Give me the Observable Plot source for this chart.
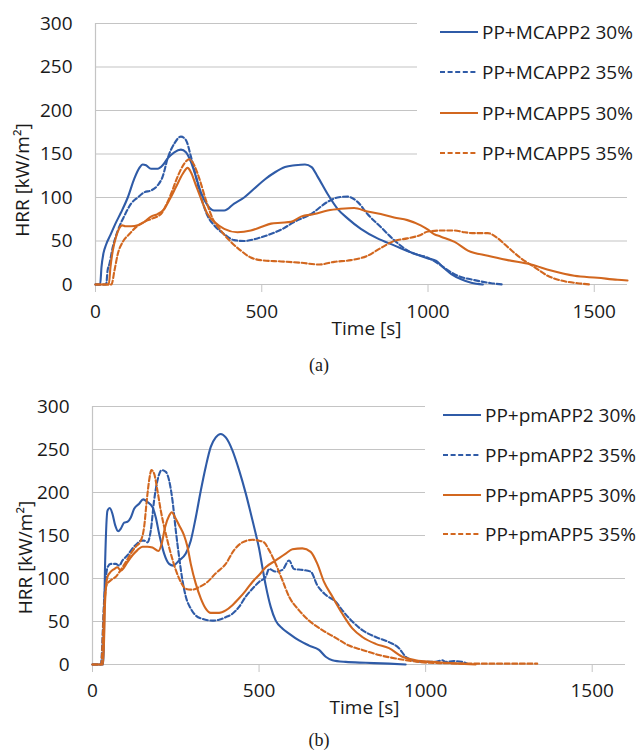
<!DOCTYPE html>
<html><head><meta charset="utf-8">
<script src="https://cdn.jsdelivr.net/npm/d3@7"></script>
<script src="https://cdn.jsdelivr.net/npm/@observablehq/plot@0.6"></script>
<style>
body{margin:0;background:#fff;}
#wrap{position:relative;width:638px;height:753px;overflow:hidden;font-family:"Open Sans",sans-serif;background:#fff;}
.panel{position:absolute;left:0;}
.legend{position:absolute;background:#fff;}
.row{position:absolute;height:24px;display:flex;align-items:center;font-size:19px;color:#1a1a1a;white-space:nowrap;}
.row svg{margin-right:4px;}
.cap{position:absolute;left:0;width:638px;text-align:center;font-family:"Liberation Serif","Times New Roman",serif;font-size:18px;line-height:22px;color:#1a1a1a;}
</style></head><body><div id="wrap"></div>
<script>
// ---------- data ----------
const xTicks = [0, 500, 1000, 1500];
const yTicks = [0, 50, 100, 150, 200, 250, 300];
const yLabel = "HRR [kW/m²]";
const xLabel = "Time [s]";

const namesA = ["PP+MCAPP2 30%", "PP+MCAPP2 35%", "PP+MCAPP5 30%", "PP+MCAPP5 35%"];
const namesB = ["PP+pmAPP2 30%", "PP+pmAPP2 35%", "PP+pmAPP5 30%", "PP+pmAPP5 35%"];

// panel (a): [time s, HRR kW/m2]
const aMC2_30 = [[0,0],[14,0],[18,20],[24,36],[32,46],[45,57],[60,70],[77,83],[97,100],[117,122],[132,134],[142,138],[152,137],[167,133],[187,133],[202,137],[217,145],[237,152],[257,155],[272,152],[287,141],[302,124],[317,106],[337,91],[357,85],[387,85],[417,93],[447,100],[477,110],[510,121],[540,129],[570,135],[600,137],[630,138],[650,135],[668,124],[698,104],[728,87],[758,76],[798,64],[848,53],[898,45],[948,37],[1000,30],[1025,27],[1045,20],[1070,12],[1100,6],[1130,2],[1165,0]];
const aMC2_35 = [[0,0],[32,0],[36,15],[42,24],[52,43],[67,62],[87,79],[107,93],[127,100],[147,106],[167,108],[187,114],[202,124],[217,145],[237,162],[257,170],[272,166],[287,147],[302,124],[317,101],[337,79],[357,68],[387,58],[417,51],[447,50],[487,53],[527,58],[558,63],[598,72],[648,81],[698,95],[728,100],[758,101],[788,95],[818,81],[858,66],[898,51],[948,37],[998,31],[1039,22],[1065,15],[1090,10],[1140,5],[1190,1.5],[1225,0]];
const aMC5_30 = [[0,0],[40,0],[45,20],[52,39],[62,55],[72,65],[80,68],[90,67],[107,67],[127,68],[147,72],[167,78],[187,81],[207,87],[222,97],[242,112],[262,127],[277,134],[287,129],[302,114],[317,99],[337,81],[357,72],[387,64],[427,60],[467,62],[498,66],[528,70],[558,71],[588,72],[618,78],[658,81],[698,85],[738,87],[778,88],[818,84],[858,81],[898,77],[938,74],[978,68],[1000,63],[1018,58],[1039,55],[1080,49],[1120,39],[1180,33],[1240,28],[1310,23],[1370,16],[1440,10],[1510,7.7],[1570,5.4],[1600,4.6]];
const aMC5_35 = [[0,0],[48,0],[57,16],[67,35],[82,49],[102,58],[122,66],[147,72],[172,76],[197,81],[212,91],[227,104],[247,124],[267,139],[282,144],[297,137],[312,122],[332,97],[352,76],[377,62],[407,49],[437,39],[467,31],[497,28],[558,26.5],[618,25],[673,23],[718,26],[768,28],[818,33],[858,42],[898,50],[938,53],[978,57],[1000,61],[1040,62],[1080,62],[1110,60],[1140,59],[1180,59],[1210,53],[1240,43],[1280,30],[1320,20],[1360,10],[1400,4.6],[1450,1.5],[1490,0]];

// panel (b)
const bPM2_30 = [[0,0],[32,0],[38,120],[45,179],[52,182],[60,175],[68,162],[77,155],[85,158],[95,165],[105,166],[115,171],[125,181],[140,187],[152,192],[165,189],[180,183],[190,171],[200,152],[215,129],[230,117],[242,115],[260,121],[280,129],[295,144],[310,171],[325,202],[340,230],[355,253],[370,264],[385,268],[400,264],[420,249],[440,226],[460,199],[480,168],[490,152],[500,135],[510,113],[520,92],[535,67],[550,51],[570,42],[590,36],[620,28],[650,22],[680,17],[700,9],[720,5],[760,3],[820,2],[890,1],[940,0]];
const bPM2_35 = [[0,0],[25,0],[35,75],[45,113],[55,117],[70,117],[80,115],[90,121],[105,127],[120,135],[135,141],[145,144],[155,144],[165,142],[175,156],[185,191],[195,214],[208,226],[220,224],[230,214],[240,191],[250,156],[260,125],[270,98],[280,79],[295,65],[310,57],[330,53],[360,51],[380,52],[400,55],[420,59],[440,67],[460,79],[480,88],[500,96],[520,102],[530,111],[550,108],[570,110],[590,121],[605,111],[630,110],[655,108],[675,92],[700,81],[730,73],[750,63],[780,50],[810,40],[850,32],[890,26],[920,19],[940,9],[960,5],[990,3],[1030,3],[1050,5],[1060,3],[1085,4],[1110,3],[1125,1]];
const bPM5_30 = [[0,0],[32,0],[38,75],[45,102],[55,108],[65,111],[75,113],[85,109],[95,113],[105,119],[120,127],[135,133],[150,137],[165,137],[180,136],[198,132],[208,141],[218,160],[230,173],[238,177],[248,171],[260,162],[275,150],[285,137],[295,117],[310,94],[325,77],[340,65],[355,60],[380,60],[400,63],[420,69],[440,77],[460,86],[480,96],[500,104],[520,113],[550,121],[580,129],[600,134],[630,135],[655,131],[675,117],[695,96],[720,79],[750,59],[780,42],[810,32],[850,24],[890,19],[930,9],[970,5],[1020,3],[1060,2],[1100,1],[1150,0]];
const bPM5_35 = [[0,0],[26,0],[35,67],[42,92],[55,98],[70,102],[85,110],[100,119],[115,129],[130,137],[145,144],[155,160],[163,191],[170,214],[177,226],[185,222],[195,202],[205,179],[220,152],[235,129],[250,110],[265,96],[280,88],[300,87],[320,90],[345,96],[370,106],[400,117],[425,133],[450,142],[480,145],[500,144],[515,142],[530,133],[550,117],[570,98],[590,79],[620,63],[650,51],[690,40],[730,31],[770,22],[810,17],[860,11],[910,7],[960,4],[1010,2],[1060,1.5],[1120,1],[1200,1],[1280,1],[1335,1]];

const colors = ["#2F5BA7", "#2F5BA7", "#D2671F", "#D2671F"];
const dashes = [null, "5,2.6", null, "5,2.6"];

// ---------- drawing ----------
const wrap = document.getElementById("wrap");

function makePanel(cfg) {
  const lines = cfg.series.map((s, i) => Plot.line(s, {
    x: d => d[0], y: d => d[1], stroke: colors[i], strokeWidth: 2.1,
    strokeDasharray: dashes[i] || undefined, curve: "monotone-x"
  }));
  const svg = Plot.plot({
    width: 638, height: cfg.height,
    marginLeft: cfg.left, marginRight: 638 - cfg.right,
    marginTop: cfg.top, marginBottom: cfg.height - cfg.bottom,
    style: {fontFamily: "Open Sans", fontSize: "19px", color: "#1a1a1a", background: "transparent", overflow: "visible"},
    x: {domain: [0, 1600], axis: null},
    y: {domain: [0, 300], axis: null},
    marks: [
      Plot.gridY(yTicks, {stroke: "#c4c4c4", strokeOpacity: 1, strokeWidth: 1.2}),
      Plot.ruleX([0], {stroke: "#c4c4c4", strokeWidth: 1.2}),
      Plot.axisX(xTicks, {tickSize: 8, tickPadding: cfg.xPad, stroke: "#c4c4c4", fill: "#1a1a1a", label: null, tickFormat: d => String(d)}),
      Plot.axisY(yTicks, {tickSize: 0, tickPadding: 23, fill: "#1a1a1a", label: null, tickFormat: d => String(d)}),
      Plot.text([yLabel], {frameAnchor: "left", textAnchor: "middle", lineAnchor: "middle", rotate: -90, dx: cfg.yLabDx, dy: cfg.yLabDy, text: d => d, fill: "#1a1a1a"}),
      Plot.text([xLabel], {frameAnchor: "bottom", textAnchor: "middle", lineAnchor: "middle", dx: cfg.xLabDx, dy: cfg.xLabDy, text: d => d, fill: "#1a1a1a"}),
      ...lines
    ]
  });
  svg.classList.add("panel");
  svg.style.top = cfg.svgTop + "px";
  wrap.appendChild(svg);

  // legend (white box over the upper gridlines)
  const lg = document.createElement("div");
  lg.className = "legend";
  lg.style.left = cfg.lg.left + "px";
  lg.style.top = cfg.lg.top + "px";
  lg.style.width = (638 - cfg.lg.left) + "px";
  lg.style.height = cfg.lg.height + "px";
  cfg.names.forEach((name, i) => {
    const r = document.createElement("div");
    r.className = "row";
    r.style.left = (cfg.lg.lineX - cfg.lg.left) + "px";
    r.style.top = (cfg.lg.rows[i] - cfg.lg.top - 12) + "px";
    const dash = dashes[i] ? ` stroke-dasharray="${dashes[i]}"` : "";
    r.innerHTML = `<svg width="38" height="6"><line x1="0" y1="3" x2="38" y2="3" stroke="${colors[i]}" stroke-width="2.1"${dash}/></svg><span>${name}</span>`;
    lg.appendChild(r);
  });
  wrap.appendChild(lg);

  const cap = document.createElement("div");
  cap.className = "cap";
  cap.style.top = (cfg.capY - 11) + "px";
  cap.textContent = cfg.cap;
  wrap.appendChild(cap);
}

makePanel({
  series: [aMC2_30, aMC2_35, aMC5_30, aMC5_35], names: namesA,
  svgTop: 0, height: 345, top: 23, bottom: 284, left: 95, right: 627, xPad: 12,
  yLabDx: -73, yLabDy: 26, xLabDx: 5, xLabDy: 44,
  lg: {left: 417, top: 2, height: 170, lineX: 440, rows: [32, 72, 113, 153]},
  cap: "(a)", capY: 365
});
makePanel({
  series: [bPM2_30, bPM2_35, bPM5_30, bPM5_35], names: namesB,
  svgTop: 383, height: 345, top: 23, bottom: 281, left: 92, right: 625, xPad: 11,
  yLabDx: -67, yLabDy: 22, xLabDx: 5.5, xLabDy: 43,
  lg: {left: 425, top: 392, height: 158, lineX: 443, rows: [415, 455, 495, 534]},
  cap: "(b)", capY: 740
});
</script></body></html>
